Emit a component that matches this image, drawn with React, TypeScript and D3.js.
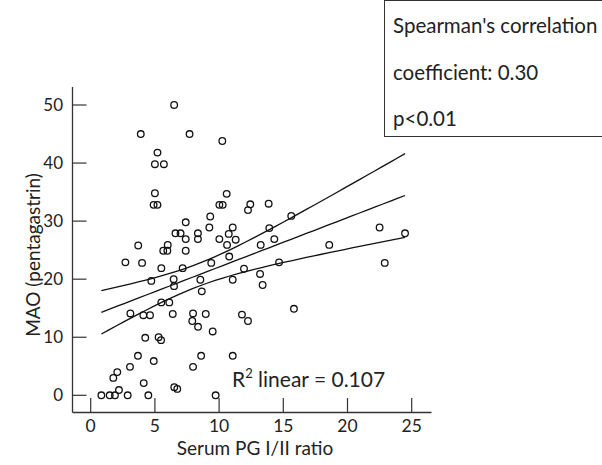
import * as d3 from 'd3'

// serum PG I/II ratio (x) and MAO (y), one entry per patient
const pgRatio = [
  6.5, 3.9, 7.7, 5.2, 5.0, 5.7, 5.0, 4.9, 5.2, 7.4, 6.6, 7.0, 7.4, 8.35, 8.35, 3.7,
  6.0, 5.65, 5.97, 7.4, 2.7, 4.0, 5.5, 7.16, 4.72, 6.46, 6.49, 8.54, 8.65, 5.5, 6.12,
  3.09, 4.1, 4.62, 6.39, 7.97, 7.91, 8.36, 4.25, 5.29, 5.48, 3.68, 3.06, 4.91, 2.07,
  1.76, 4.13, 7.97, 8.6, 6.51, 6.74, 2.2, 0.83, 1.48, 1.89, 2.88, 4.49, 10.25, 10.59,
  10.02, 10.28, 12.43, 12.25, 13.86, 9.31, 15.62, 9.24, 11.06, 13.91, 10.02, 10.75,
  11.29, 10.62, 13.24, 14.3, 9.39, 10.79, 11.06, 11.94, 13.19, 13.39, 14.67, 8.96,
  9.5, 11.78, 12.25, 15.83, 11.06, 9.73, 18.58, 22.5, 24.48, 22.9,
]
const mao = [
  50, 45, 45, 41.8, 39.8, 39.8, 34.8, 32.8, 32.8, 29.8, 27.9, 27.9, 26.9, 27.9, 26.9, 25.8,
  25.9, 24.9, 24.9, 24.9, 22.9, 22.8, 21.9, 21.9, 19.7, 20.0, 18.8, 19.9, 17.9, 16.0, 16.0,
  14.1, 13.8, 13.8, 14.0, 14.1, 12.8, 11.8, 9.9, 10.0, 9.5, 6.8, 4.9, 5.9, 4.0,
  3.0, 2.1, 4.9, 6.8, 1.4, 1.1, 0.9, 0, 0, 0, 0, 0, 43.8, 34.7,
  32.8, 32.8, 32.9, 31.9, 33.0, 30.8, 30.9, 28.9, 28.9, 28.8, 26.9, 27.8,
  26.8, 25.9, 25.9, 26.9, 22.8, 23.9, 19.9, 21.8, 20.9, 19.0, 22.9, 14.0,
  11.0, 13.9, 12.8, 14.9, 6.8, 0, 25.9, 28.9, 27.9, 22.8,
]

const xTicks = [0, 5, 10, 15, 20, 25]
const yTicks = [0, 10, 20, 30, 40, 50]
const statLines = ["Spearman's correlation", 'coefficient: 0.30', 'p<0.01']
const rSquared = '0.107'

const W = 602
const H = 465
const axisX = 72.5
const axisY = 412.5
const font = 'Lato, "Open Sans", sans-serif'
const ink = '#222'
// multiplier on the residual error for the band around the fit
const bandT = 1.65

export default function App() {
  const x = d3.scaleLinear().domain([0, 25]).range([90.7, 411.7])
  const y = d3.scaleLinear().domain([0, 50]).range([395.3, 105])

  // least squares fit with a confidence band for the mean
  const n = pgRatio.length
  const xbar = d3.mean(pgRatio)
  const ybar = d3.mean(mao)
  const sxx = d3.sum(pgRatio, (v) => (v - xbar) ** 2)
  const sxy = d3.sum(pgRatio, (v, i) => (v - xbar) * (mao[i] - ybar))
  const slope = sxy / sxx
  const icept = ybar - slope * xbar
  const sse = d3.sum(pgRatio, (v, i) => (mao[i] - (icept + slope * v)) ** 2)
  const se = Math.sqrt(sse / (n - 2))
  const [x0, x1] = d3.extent(pgRatio)
  const xs = d3.range(0, 41).map((i) => x0 + ((x1 - x0) * i) / 40)
  const half = (v) => bandT * se * Math.sqrt(1 / n + (v - xbar) ** 2 / sxx)

  const line = d3
    .line()
    .x((d) => x(d[0]))
    .y((d) => y(d[1]))

  const fitPath = line(xs.map((v) => [v, icept + slope * v]))
  const upPath = line(xs.map((v) => [v, icept + slope * v + half(v)]))
  const loPath = line(xs.map((v) => [v, icept + slope * v - half(v)]))

  return (
    <svg
      width={W}
      height={H}
      style={{ position: 'absolute', left: 0, top: 0, background: '#fff' }}
      fontFamily={font}
      fill={ink}
    >
      <rect x={0} y={0} width={W} height={H} fill='#fff' />

      {/* axes */}
      <line x1={axisX} x2={axisX} y1={87} y2={axisY} stroke='#333' strokeWidth={1.3} />
      <line x1={axisX} x2={431.5} y1={axisY} y2={axisY} stroke='#333' strokeWidth={1.3} />

      {yTicks.map((t) => (
        <g key={'y' + t}>
          <line x1={axisX} x2={86.5} y1={y(t)} y2={y(t)} stroke='#333' strokeWidth={1.2} />
          <text x={63} y={y(t)} dy='0.36em' textAnchor='end' fontSize={17}>
            {t}
          </text>
        </g>
      ))}
      {xTicks.map((t) => (
        <g key={'x' + t}>
          <line x1={x(t)} x2={x(t)} y1={axisY} y2={398} stroke='#333' strokeWidth={1.2} />
          <text x={x(t)} y={432} textAnchor='middle' fontSize={17.5}>
            {t}
          </text>
        </g>
      ))}

      <text x={255} y={455} textAnchor='middle' fontSize={19}>
        Serum PG I/II ratio
      </text>
      <text
        transform='translate(40,255) rotate(-90)'
        textAnchor='middle'
        fontSize={19}
      >
        MAO (pentagastrin)
      </text>

      {/* fit and confidence band */}
      <path d={upPath} fill='none' stroke='#111' strokeWidth={1.3} />
      <path d={fitPath} fill='none' stroke='#111' strokeWidth={1.3} />
      <path d={loPath} fill='none' stroke='#111' strokeWidth={1.3} />

      {pgRatio.map((v, i) => (
        <circle
          key={i}
          cx={x(v)}
          cy={y(mao[i])}
          r={3.3}
          fill='none'
          stroke='#111'
          strokeWidth={1.3}
        />
      ))}

      <text x={232} y={387} fontSize={21}>
        R<tspan dy={-9} fontSize={13}>2</tspan>
        <tspan dy={9}> linear = {rSquared}</tspan>
      </text>

      {/* stats box */}
      <rect x={384.5} y={0.5} width={240} height={136} fill='#fff' stroke='#333' strokeWidth={1} />
      {statLines.map((s, i) => (
        <text key={s} x={393} y={33 + i * 46.5} fontSize={20.5}>
          {s}
        </text>
      ))}
    </svg>
  )
}
